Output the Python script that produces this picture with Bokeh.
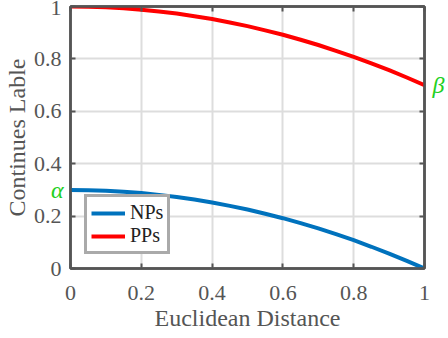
from bokeh.plotting import figure
from bokeh.models import Range1d, LinearAxis, FixedTicker, Legend, LegendItem
from bokeh.embed import file_html
from bokeh.resources import INLINE

# ---- data ----
dist = [0.0, 0.05, 0.1, 0.15, 0.2, 0.25, 0.3, 0.35, 0.4, 0.45, 0.5,
        0.55, 0.6, 0.65, 0.7, 0.75, 0.8, 0.85, 0.9, 0.95, 1.0]
nps = [0.300, 0.299, 0.297, 0.293, 0.288, 0.281, 0.273, 0.263, 0.252, 0.239, 0.225,
       0.209, 0.192, 0.173, 0.153, 0.131, 0.108, 0.083, 0.057, 0.029, 0.0]
pps = [1.000, 0.999, 0.997, 0.993, 0.988, 0.981, 0.973, 0.963, 0.952, 0.939, 0.925,
       0.909, 0.892, 0.873, 0.853, 0.831, 0.808, 0.783, 0.757, 0.729, 0.700]
tick_vals = [0.0, 0.2, 0.4, 0.6, 0.8, 1.0]
tick_labels = ["0", "0.2", "0.4", "0.6", "0.8", "1"]
series_names = ["NPs", "PPs"]
alpha_val = 0.3
beta_val = 0.7

FONT = "Liberation Serif"
GRAY = "#555555"
GREEN = "#22d022"

p = figure(width=448, height=338, output_backend="svg", toolbar_location=None,
           x_range=Range1d(0, 1), y_range=Range1d(0, 1),
           min_border_left=69, min_border_right=24, min_border_top=6, min_border_bottom=70)
p.background_fill_color = "white"
p.border_fill_color = "white"
p.outline_line_color = GRAY
p.outline_line_width = 2.5

overrides = {v: t for v, t in zip(tick_vals, tick_labels)}


def style_ticks(ax):
    ax.axis_line_color = GRAY
    ax.axis_line_width = 2.5
    ax.major_tick_line_color = GRAY
    ax.major_tick_line_width = 2
    ax.major_tick_in = 5
    ax.major_tick_out = 0
    ax.minor_tick_line_color = GRAY
    ax.minor_tick_line_width = 2
    ax.minor_tick_in = 5
    ax.minor_tick_out = 0


xax = p.xaxis[0]
yax = p.yaxis[0]
for ax in (xax, yax):
    ax.ticker = FixedTicker(ticks=tick_vals, minor_ticks=[])
    ax.major_label_overrides = overrides
    ax.major_label_text_font = FONT
    ax.major_label_text_font_size = "22px"
    ax.major_label_text_color = GRAY
    ax.axis_label_text_font = FONT
    ax.axis_label_text_font_size = "24px"
    ax.axis_label_text_font_style = "normal"
    ax.axis_label_text_color = GRAY
    style_ticks(ax)

xax.axis_label = "Euclidean Distance"
yax.axis_label = "Continues Lable"
xax.major_label_standoff = 17
xax.axis_label_standoff = 2

# alpha marker axis, nearest to the frame on the left (carries the inward ticks)
alpha_ax = LinearAxis(ticker=FixedTicker(ticks=[alpha_val], minor_ticks=tick_vals))
style_ticks(alpha_ax)
alpha_ax.major_tick_line_color = None
alpha_ax.major_label_overrides = {alpha_val: "α"}
alpha_ax.major_label_text_font = FONT
alpha_ax.major_label_text_font_style = "italic"
alpha_ax.major_label_text_font_size = "24px"
alpha_ax.major_label_text_color = GREEN
alpha_ax.major_label_standoff = 7

# main y axis sits outside the alpha axis; pull its labels back toward the frame
yax.axis_line_color = None
yax.major_tick_line_color = None
yax.major_label_standoff = -14
yax.axis_label_standoff = 1
p.left = [alpha_ax, yax]

# top axis: inward ticks only
top_ax = LinearAxis(ticker=FixedTicker(ticks=[], minor_ticks=tick_vals))
style_ticks(top_ax)
top_ax.major_label_text_font_size = "0px"
top_ax.major_label_standoff = 0
p.add_layout(top_ax, "above")

# right axis: inward ticks plus the beta marker
right_ax = LinearAxis(ticker=FixedTicker(ticks=[beta_val], minor_ticks=tick_vals))
style_ticks(right_ax)
right_ax.major_tick_line_color = None
right_ax.major_label_overrides = {beta_val: "β"}
right_ax.major_label_text_font = FONT
right_ax.major_label_text_font_style = "italic"
right_ax.major_label_text_font_size = "24px"
right_ax.major_label_text_color = GREEN
right_ax.major_label_standoff = 8
p.add_layout(right_ax, "right")

p.xgrid.ticker = FixedTicker(ticks=tick_vals)
p.ygrid.ticker = FixedTicker(ticks=tick_vals)
p.grid.grid_line_color = "#dddddd"
p.grid.grid_line_width = 2

r1 = p.line(dist, nps, line_color="#0072BD", line_width=4)
r2 = p.line(dist, pps, line_color="#FF0000", line_width=4)

legend = Legend(items=[LegendItem(label=series_names[0], renderers=[r1]),
                       LegendItem(label=series_names[1], renderers=[r2])],
                location=(14, 14))
legend.label_text_font = FONT
legend.label_text_font_size = "20px"
legend.label_text_color = "#222222"
legend.border_line_color = GRAY
legend.border_line_width = 3
legend.padding = 4
legend.spacing = 0
legend.margin = 0
legend.glyph_width = 34
legend.glyph_height = 20
legend.label_standoff = 5
legend.label_height = 20
legend.background_fill_alpha = 1
p.add_layout(legend)

open("out.html", "w").write(file_html(p, INLINE))
